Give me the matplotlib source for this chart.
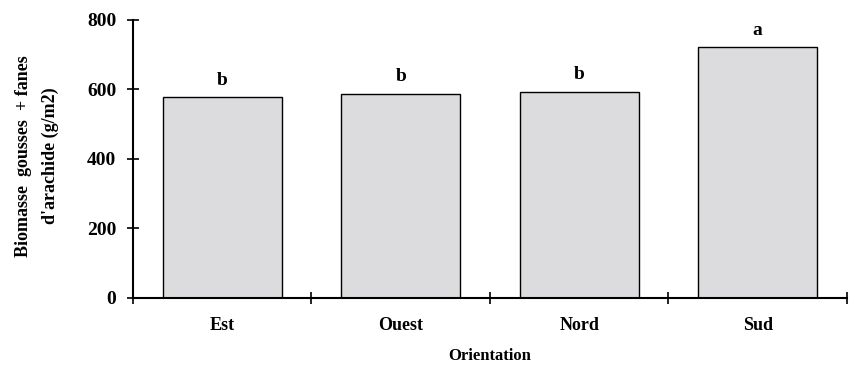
import matplotlib
matplotlib.use("Agg")
import matplotlib.pyplot as plt
import numpy as np

# Biomasse par orientation
orientations = ["Est", "Ouest", "Nord", "Sud"]
biomasse = [578, 588, 593, 722]
groupes = ["b", "b", "b", "a"]

plt.rcParams["font.family"] = ["Liberation Serif", "DejaVu Serif"]
plt.rcParams["font.weight"] = "bold"

fig = plt.figure(figsize=(8.52, 3.73), dpi=100)
ax = fig.add_axes([0.1561, 0.2019, 0.838, 0.7445])

x = np.arange(len(orientations))
ax.bar(x, biomasse, width=0.667, color="#dcdcde", edgecolor="black", linewidth=1.0)

# lettres de comparaison au-dessus des barres
for xi, v, g in zip(x, biomasse, groupes):
    ax.annotate(g, (xi, v), xytext=(0, 9), textcoords="offset points",
                ha="center", va="baseline", fontsize=14, fontweight="bold")

ax.set_xlim(-0.5, len(orientations) - 0.5)
ax.set_ylim(0, 800)
ax.set_yticks(np.arange(0, 801, 200))
ax.set_xticks(x)
ax.set_xticklabels(orientations)
ax.set_xticks(np.arange(-0.5, len(orientations), 1), minor=True)

for s in ["top", "right"]:
    ax.spines[s].set_visible(False)
ax.spines["left"].set_linewidth(1.5)
ax.spines["bottom"].set_linewidth(1.5)

ax.tick_params(axis="y", direction="inout", length=8, width=1.2, labelsize=14, pad=8)
ax.tick_params(axis="x", which="major", length=0, labelsize=13, pad=14)
ax.tick_params(axis="x", which="minor", direction="inout", length=8, width=1.2)
for lab in ax.get_xticklabels() + ax.get_yticklabels():
    lab.set_fontweight("bold")

ax.set_xlabel("Orientation", fontsize=12, fontweight="bold", labelpad=10)
fig.text(37 / 852, 1 - 156 / 373, "Biomasse  gousses  + fanes\nd'arachide (g/m2)",
         rotation=90, ha="center", va="center", multialignment="center",
         fontsize=13, fontweight="bold", linespacing=1.75)

fig.savefig("out.png", dpi=100)
